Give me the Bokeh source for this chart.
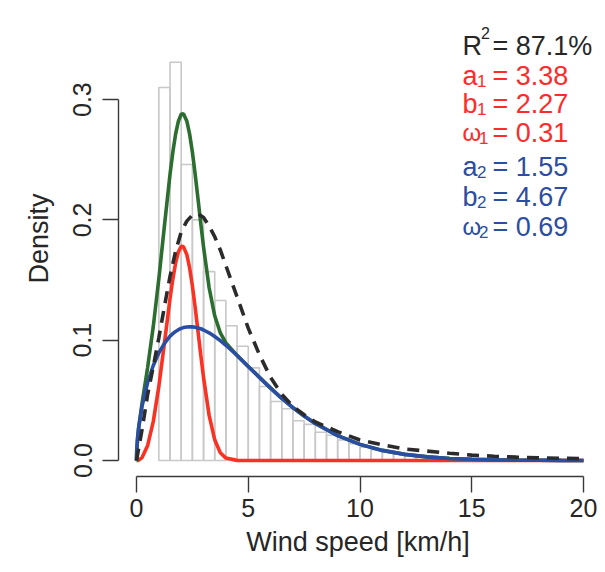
from bokeh.plotting import figure
from bokeh.models import ColumnDataSource, FixedTicker, NumeralTickFormatter, Label, Range1d
from bokeh.core.properties import value
from bokeh.embed import file_html
from bokeh.resources import INLINE

# ---------------- data ----------------
# histogram of wind speed (bins of 0.5 km/h), density
bin_left = [1.0, 1.5, 2.0, 2.5, 3.0, 3.5, 4.0, 4.5, 5.0, 5.5, 6.0, 6.5, 7.0, 7.5,
            8.0, 8.5, 9.0, 9.5, 10.0, 10.5, 11.0, 11.5, 12.0, 12.5, 13.0, 13.5,
            14.0, 14.5, 15.0, 15.5, 16.0, 16.5, 17.0, 17.5]
bin_density = [0.310, 0.331, 0.246, 0.200, 0.157, 0.133, 0.112, 0.095, 0.077, 0.0615,
               0.049, 0.043, 0.033, 0.030, 0.0235, 0.021, 0.017, 0.014, 0.011, 0.009,
               0.0075, 0.0062, 0.0050, 0.0042, 0.0035, 0.0028, 0.0023, 0.0019, 0.0015,
               0.0012, 0.0010, 0.0008, 0.0006, 0.0005]
bin_width = 0.5

# fitted mixture curves (density)
curve_x = [0, 0.01, 0.05, 0.1, 0.25, 0.5, 0.75, 1.0, 1.25, 1.5, 1.625, 1.75, 1.875, 2.0,
           2.1, 2.25, 2.375, 2.5, 2.625, 2.75, 2.875, 3.0, 3.25, 3.5, 3.75, 4.0, 4.5,
           5, 5.5, 6, 6.5, 7, 7.5, 8, 9, 10, 11, 12, 13, 14, 15, 16, 17, 18, 19, 20]
comp1_density = [0, 0, 0.00005, 0.00027, 0.00242, 0.01253, 0.0323, 0.0616, 0.0977, 0.1346,
                 0.1508, 0.1641, 0.1734, 0.1780, 0.1778, 0.1713, 0.1603, 0.1453, 0.1273,
                 0.1076, 0.0878, 0.0689, 0.0375, 0.0172, 0.0065, 0.0020, 0.0001,
                 0, 0, 0, 0, 0, 0, 0, 0, 0, 0, 0, 0, 0, 0, 0, 0, 0, 0, 0]
comp2_density = [0, 0.0078, 0.0189, 0.0276, 0.0453, 0.0650, 0.0790, 0.0895, 0.0974, 0.1033,
                 0.1055, 0.1073, 0.1087, 0.1098, 0.1105, 0.1110, 0.1112, 0.1111, 0.1108,
                 0.1102, 0.1095, 0.1085, 0.1061, 0.1031, 0.0996, 0.0958, 0.0873,
                 0.0782, 0.0691, 0.0602, 0.0517, 0.0440, 0.0370, 0.0308, 0.0207, 0.0134,
                 0.0084, 0.0051, 0.0030, 0.0017, 0.0010, 0.0005, 0.0003, 0.00015, 0.00008,
                 0.00004]
mixture_density = [0, 0.0078, 0.0190, 0.0279, 0.0477, 0.0775, 0.1113, 0.1511, 0.1951, 0.2379,
                   0.2563, 0.2714, 0.2821, 0.2878, 0.2883, 0.2823, 0.2715, 0.2564, 0.2380,
                   0.2178, 0.1972, 0.1774, 0.1436, 0.1203, 0.1061, 0.0978, 0.0874,
                   0.0782, 0.0691, 0.0602, 0.0517, 0.0440, 0.0370, 0.0308, 0.0207, 0.0134,
                   0.0084, 0.0051, 0.0030, 0.0017, 0.0010, 0.0005, 0.0003, 0.00015, 0.00008,
                   0.00004]

# single-distribution fit (dashed)
single_x = [0, 0.25, 0.5, 0.75, 1.0, 1.25, 1.5, 1.75, 2.0, 2.25, 2.5, 2.75, 3.0, 3.25,
            3.5, 3.75, 4.0, 4.5, 5.0, 5.5, 6.0, 6.5, 7.0, 7.5, 8.0, 9.0, 10.0, 11.0,
            12.0, 13.0, 14.0, 15.0, 16.0, 17.0, 18.0, 20.0]
single_density = [0, 0.026, 0.055, 0.078, 0.102, 0.128, 0.153, 0.174, 0.190, 0.199, 0.204,
                  0.205, 0.202, 0.195, 0.186, 0.175, 0.162, 0.136, 0.110, 0.088, 0.069,
                  0.055, 0.045, 0.038, 0.032, 0.024, 0.017, 0.013, 0.0095, 0.0078, 0.006,
                  0.0045, 0.0035, 0.0028, 0.0022, 0.0015]

x_ticks = [0, 5, 10, 15, 20]
y_ticks = [0.0, 0.1, 0.2, 0.3]
x_label = "Wind speed [km/h]"
y_label = "Density"
panel_tag = "(c)"

fit_symbols = ["R", "a", "b", "ω", "a", "b", "ω"]
fit_indices = ["2", "1", "1", "1", "2", "2", "2"]
fit_values = ["87.1%", "3.38", "2.27", "0.31", "1.55", "4.67", "0.69"]
fit_group = ["all", "c1", "c1", "c1", "c2", "c2", "c2"]

# ---------------- styling / layout ----------------
FONT = "Liberation Sans"
RED = "#F93223"
GREEN = "#2C6E2F"
BLUE = "#2A4EA3"
DASH = "#2B2B2B"
HIST = "#C8C8C8"
AXIS = "#3A3A3A"
TEXT = "#262626"
group_color = {"all": TEXT, "c1": "#FF2A2A", "c2": "#2B4DA2"}

FIG_W, FIG_H = 597, 564
X0_PX, XSCALE = 136.0, 22.35      # canvas x of 0 km/h, px per km/h
Y0_PX, YSCALE = 460.0, 1203.0     # canvas y of density 0, px per unit density
FRAME_LEFT, FRAME_RIGHT = 118, FIG_W
FRAME_TOP, FRAME_BOTTOM = 0, 476


def dx(px):
    return (px - X0_PX) / XSCALE


def dy(py):
    return (Y0_PX - py) / YSCALE


p = figure(
    frame_width=FRAME_RIGHT - FRAME_LEFT,
    frame_height=FRAME_BOTTOM - FRAME_TOP,
    x_range=Range1d(dx(FRAME_LEFT), dx(FRAME_RIGHT)),
    y_range=Range1d(dy(FRAME_BOTTOM), dy(FRAME_TOP)),
    min_border_left=FRAME_LEFT, min_border_right=FIG_W - FRAME_RIGHT,
    min_border_top=FRAME_TOP, min_border_bottom=FIG_H - FRAME_BOTTOM,
    output_backend="svg", toolbar_location=None,
)
p.outline_line_color = None
p.grid.visible = False
p.background_fill_color = "white"
p.border_fill_color = "white"

# histogram
hist_src = ColumnDataSource(dict(
    left=bin_left,
    right=[b + bin_width for b in bin_left],
    top=bin_density,
    bottom=[0] * len(bin_left),
))
p.quad(left="left", right="right", top="top", bottom="bottom", source=hist_src,
       fill_color=None, line_color=HIST, line_width=1.6)

# curves
p.line(curve_x, comp1_density, line_color=RED, line_width=3.6)
p.line(curve_x, mixture_density, line_color=GREEN, line_width=3.6)
p.line(curve_x, comp2_density, line_color=BLUE, line_width=3.6)
p.line(single_x, single_density, line_color=DASH, line_width=3.6, line_dash="12 8")

# axes
for ax in (p.xaxis[0], p.yaxis[0]):
    ax.axis_line_color = AXIS
    ax.axis_line_width = 1.4
    ax.major_tick_line_color = AXIS
    ax.major_tick_line_width = 1.4
    ax.major_tick_out = 16
    ax.major_tick_in = 0
    ax.minor_tick_line_color = None
    ax.major_label_text_font = FONT
    ax.major_label_text_font_size = "25px"
    ax.major_label_text_color = TEXT
    ax.axis_label_text_font = FONT
    ax.axis_label_text_font_size = "27px"
    ax.axis_label_text_font_style = "normal"
    ax.axis_label_text_color = TEXT

p.xaxis.ticker = FixedTicker(ticks=x_ticks)
p.xaxis.bounds = (x_ticks[0], x_ticks[-1])
p.xaxis.axis_label = x_label
p.xaxis.major_label_standoff = 6
p.xaxis.axis_label_standoff = 7

p.yaxis.ticker = FixedTicker(ticks=y_ticks)
p.yaxis.bounds = (y_ticks[0], y_ticks[-1])
p.yaxis.formatter = NumeralTickFormatter(format="0.0")
p.yaxis.major_label_orientation = "vertical"
p.yaxis.axis_label = y_label
p.yaxis.major_label_standoff = 11
p.yaxis.axis_label_standoff = 17

# panel tag
p.add_layout(Label(x=dx(20), y=dy(35), text=panel_tag, text_font=FONT,
                   text_font_size="31px", text_color=TEXT, text_baseline="alphabetic"))

# fit parameter block
line_baseline_px = [45, 75, 103, 132, 166, 196, 226]
text_left_px = 462
sym_width_px = {"R": 18.5, "a": 14.5, "b": 14.5, "ω": 16.5}
rows_x = [dx(text_left_px)] * len(fit_symbols)
rows_y = [dy(b) for b in line_baseline_px]
colors = [group_color[g] for g in fit_group]

sym_src = ColumnDataSource(dict(x=rows_x, y=rows_y, t=fit_symbols, c=colors,
                                fs=["24px" if s == "ω" else "27px" for s in fit_symbols]))
p.text(x="x", y="y", text="t", source=sym_src, text_color="c", text_font=value(FONT),
       text_font_size="fs", text_baseline="alphabetic", text_align="left")

idx_src = ColumnDataSource(dict(x=rows_x, y=rows_y, t=fit_indices, c=colors,
                                xo=[sym_width_px[s] for s in fit_symbols],
                                yo=[-13 if s == "R" else 5 for s in fit_symbols],
                                fs=["16px" if s == "R" else "17px" for s in fit_symbols]))
p.text(x="x", y="y", text="t", source=idx_src, text_color="c", text_font=value(FONT),
       text_font_size="fs", text_baseline="alphabetic", text_align="left",
       x_offset="xo", y_offset="yo")

val_src = ColumnDataSource(dict(x=rows_x, y=rows_y, t=["= " + v for v in fit_values], c=colors))
p.text(x="x", y="y", text="t", source=val_src, text_color="c", text_font=value(FONT),
       text_font_size="27px", text_baseline="alphabetic", text_align="left",
       x_offset=30)

open("out.html", "w").write(file_html(p, INLINE))
